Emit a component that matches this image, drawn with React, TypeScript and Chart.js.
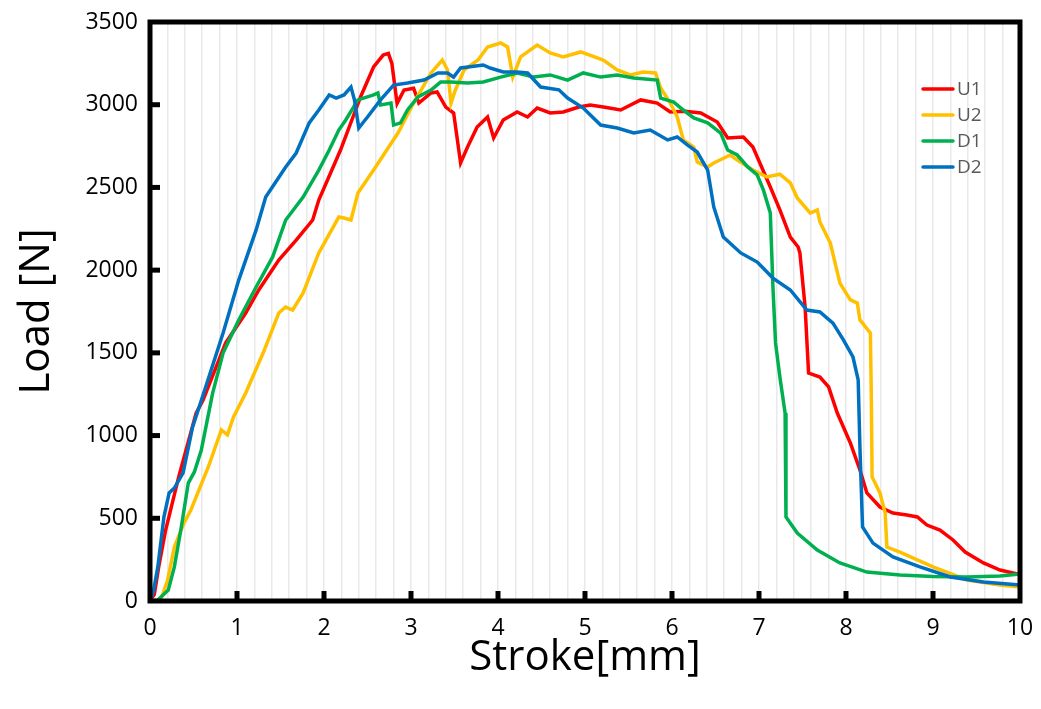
import React, { useEffect, useRef } from "react";
import { Chart, registerables } from "chart.js";

Chart.register(...registerables);

const seriesLabels = ["U1", "U2", "D1", "D2"];
const seriesColors = ["#FF0000", "#FFC000", "#00B050", "#0070C0"];

const xTickValues = [0, 1, 2, 3, 4, 5, 6, 7, 8, 9, 10];
const yTickValues = [0, 500, 1000, 1500, 2000, 2500, 3000, 3500];
const gridStep = 0.2;

const u1Stroke = [0, 0.05, 0.1, 0.18, 0.33, 0.53, 0.61, 0.87, 1.1, 1.25, 1.48, 1.68, 1.87, 1.94, 2.19, 2.42, 2.57, 2.68, 2.74, 2.78, 2.84, 2.92, 3.03, 3.09, 3.23, 3.3, 3.4, 3.49, 3.57, 3.65, 3.76, 3.88, 3.95, 4.06, 4.22, 4.34, 4.45, 4.6, 4.75, 4.93, 5.06, 5.23, 5.41, 5.64, 5.83, 5.98, 6.15, 6.33, 6.52, 6.64, 6.82, 6.93, 7.01, 7.13, 7.24, 7.36, 7.45, 7.47, 7.53, 7.57, 7.7, 7.8, 7.9, 8.05, 8.16, 8.24, 8.39, 8.54, 8.7, 8.82, 8.93, 9.08, 9.23, 9.37, 9.58, 9.77, 10];
const u1Load = [0, 40, 206, 429, 750, 1136, 1215, 1560, 1741, 1880, 2061, 2182, 2303, 2424, 2726, 3047, 3228, 3300, 3310, 3250, 3008, 3089, 3100, 3010, 3071, 3077, 2986, 2950, 2648, 2744, 2865, 2926, 2799, 2908, 2956, 2926, 2980, 2950, 2956, 2986, 2998, 2985, 2968, 3029, 3010, 2956, 2960, 2950, 2895, 2799, 2805, 2744, 2648, 2503, 2364, 2200, 2140, 2104, 1777, 1378, 1354, 1294, 1136, 955, 792, 653, 568, 532, 520, 508, 459, 429, 369, 296, 230, 187, 160];

const u2Stroke = [0, 0.08, 0.13, 0.2, 0.28, 0.39, 0.47, 0.67, 0.82, 0.89, 0.96, 1.1, 1.3, 1.48, 1.56, 1.64, 1.76, 1.94, 2.17, 2.23, 2.31, 2.39, 2.57, 2.85, 3.03, 3.23, 3.36, 3.42, 3.46, 3.51, 3.61, 3.77, 3.88, 4.03, 4.11, 4.17, 4.26, 4.45, 4.6, 4.75, 4.95, 5.21, 5.37, 5.52, 5.67, 5.81, 5.87, 5.98, 6.06, 6.13, 6.25, 6.29, 6.41, 6.48, 6.67, 6.75, 6.93, 7.09, 7.24, 7.36, 7.44, 7.59, 7.67, 7.7, 7.82, 7.93, 8.05, 8.13, 8.16, 8.28, 8.29, 8.3, 8.39, 8.45, 8.47, 8.62, 9.0, 9.39, 9.77, 10];
const u2Load = [0, 3, 18, 120, 326, 471, 550, 810, 1034, 1004, 1112, 1257, 1499, 1741, 1777, 1759, 1862, 2104, 2321, 2315, 2303, 2466, 2605, 2829, 3010, 3192, 3270, 3210, 3010, 3089, 3210, 3270, 3349, 3373, 3349, 3167, 3289, 3361, 3313, 3289, 3319, 3270, 3210, 3180, 3198, 3192, 3101, 3010, 2926, 2787, 2744, 2654, 2624, 2648, 2696, 2666, 2605, 2563, 2580, 2527, 2436, 2345, 2364, 2291, 2164, 1922, 1820, 1801, 1699, 1620, 1275, 750, 653, 532, 326, 296, 206, 127, 97, 85];

const d1Stroke = [0, 0.09, 0.21, 0.28, 0.36, 0.44, 0.51, 0.59, 0.72, 0.84, 1.02, 1.22, 1.41, 1.56, 1.76, 1.94, 2.06, 2.17, 2.25, 2.39, 2.57, 2.62, 2.65, 2.77, 2.8, 2.88, 2.96, 3.08, 3.23, 3.34, 3.46, 3.65, 3.83, 4.03, 4.22, 4.41, 4.6, 4.8, 4.98, 5.18, 5.37, 5.56, 5.83, 5.87, 6.02, 6.13, 6.25, 6.41, 6.56, 6.64, 6.75, 6.87, 6.98, 7.05, 7.13, 7.16, 7.19, 7.24, 7.3, 7.31, 7.44, 7.67, 7.93, 8.24, 8.62, 9.0, 9.39, 9.77, 10];
const d1Load = [0, 6, 66, 206, 447, 713, 780, 913, 1257, 1499, 1699, 1898, 2080, 2303, 2442, 2605, 2726, 2847, 2908, 3029, 3059, 3071, 2998, 3010, 2877, 2890, 2968, 3047, 3089, 3137, 3137, 3131, 3137, 3167, 3192, 3167, 3180, 3149, 3192, 3167, 3180, 3161, 3149, 3040, 3016, 2968, 2920, 2890, 2829, 2726, 2696, 2624, 2575, 2485, 2345, 1900, 1560, 1354, 1136, 508, 411, 308, 230, 175, 157, 148, 145, 151, 163];

const d2Stroke = [0, 0.04, 0.09, 0.16, 0.22, 0.28, 0.38, 0.49, 0.64, 0.84, 1.02, 1.22, 1.33, 1.56, 1.68, 1.83, 1.94, 2.06, 2.14, 2.23, 2.31, 2.35, 2.4, 2.5, 2.65, 2.8, 2.96, 3.15, 3.31, 3.42, 3.49, 3.57, 3.83, 3.91, 4.06, 4.22, 4.34, 4.49, 4.7, 4.8, 4.98, 5.18, 5.37, 5.56, 5.75, 5.95, 6.06, 6.18, 6.29, 6.41, 6.48, 6.59, 6.79, 6.98, 7.16, 7.36, 7.55, 7.7, 7.85, 7.97, 8.08, 8.14, 8.16, 8.19, 8.31, 8.54, 8.85, 9.2, 9.58, 10];
const d2Load = [0, 60, 206, 508, 653, 683, 774, 1052, 1294, 1620, 1940, 2243, 2442, 2624, 2708, 2890, 2968, 3059, 3040, 3059, 3107, 3029, 2859, 2926, 3029, 3119, 3131, 3149, 3192, 3192, 3167, 3222, 3240, 3222, 3198, 3198, 3192, 3107, 3090, 3040, 2980, 2877, 2859, 2829, 2847, 2787, 2805, 2756, 2714, 2605, 2382, 2200, 2104, 2049, 1952, 1880, 1759, 1747, 1680, 1578, 1475, 1336, 931, 447, 350, 266, 206, 145, 115, 97];

const strokes = [u1Stroke, u2Stroke, d1Stroke, d2Stroke];
const loads = [u1Load, u2Load, d1Load, d2Load];

const FONT = "'Open Sans', 'Noto Sans', sans-serif";

const framePlugin = {
  id: "frameAndLegend",
  afterDatasetsDraw(chart: any) {
    const { ctx, chartArea, scales } = chart;
    const { left, top, right, bottom } = chartArea;
    ctx.save();
    ctx.strokeStyle = "#000";
    ctx.lineWidth = 5;
    ctx.strokeRect(left, top, right - left, bottom - top);
    ctx.lineWidth = 5;
    ctx.lineCap = "butt";
    yTickValues.forEach((v) => {
      if (v === 0 || v === 3500) return;
      const py = scales.y.getPixelForValue(v);
      ctx.beginPath();
      ctx.moveTo(left, py);
      ctx.lineTo(left + 10, py);
      ctx.stroke();
    });
    xTickValues.forEach((v) => {
      if (v === 0 || v === 10) return;
      const px = scales.x.getPixelForValue(v);
      ctx.beginPath();
      ctx.moveTo(px, bottom);
      ctx.lineTo(px, bottom - 10);
      ctx.stroke();
    });
    // legend
    const lx = right - 97;
    const ly = top + 67;
    const rowH = 26;
    ctx.font = `19px ${FONT}`;
    ctx.textBaseline = "middle";
    ctx.textAlign = "left";
    chart.data.datasets.forEach((ds: any, i: number) => {
      const y = ly + i * rowH;
      ctx.strokeStyle = ds.borderColor;
      ctx.lineWidth = 3.5;
      ctx.lineCap = "round";
      ctx.beginPath();
      ctx.moveTo(lx, y);
      ctx.lineTo(lx + 30, y);
      ctx.stroke();
      ctx.fillStyle = "#595959";
      ctx.fillText(ds.label, lx + 34, y + 1);
    });
    ctx.restore();
  },
};

export default function App() {
  const ref = useRef<HTMLCanvasElement | null>(null);
  useEffect(() => {
    if (!ref.current) return;
    const datasets = seriesLabels.map((label, i) => ({
      label,
      data: strokes[i].map((x, j) => ({ x, y: loads[i][j] })),
      borderColor: seriesColors[i],
      backgroundColor: seriesColors[i],
      borderWidth: 3.5,
      pointRadius: 0,
      showLine: true,
      fill: false,
      tension: 0,
      order: 3 - i,
    }));
    const chart = new Chart(ref.current, {
      type: "scatter",
      data: { datasets },
      options: {
        animation: false,
        responsive: true,
        maintainAspectRatio: false,
        layout: { padding: { top: 14, right: 13, left: 0, bottom: 0 } },
        plugins: { legend: { display: false }, tooltip: { enabled: false } },
        scales: {
          x: {
            type: "linear",
            min: 0,
            max: 10,
            afterBuildTicks: (scale: any) => {
              const t = [];
              for (let k = 0; k <= 50; k++) t.push({ value: Math.round(k * gridStep * 1000) / 1000 });
              scale.ticks = t;
            },
            afterFit: (scale: any) => {
              scale.height = 100;
              scale.paddingLeft = 0;
              scale.paddingRight = 0;
            },
            grid: { color: "#e9e9e9", lineWidth: 1.5, drawTicks: false, tickLength: 0 },
            border: { display: false },
            ticks: {
              autoSkip: false,
              maxRotation: 0,
              padding: 14,
              color: "#000",
              font: { size: 23, family: FONT },
              callback: (v: any) => {
                const n = Number(v);
                return xTickValues.some((t) => Math.abs(t - n) < 1e-6) ? String(Math.round(n)) : "";
              },
            },
            title: {
              display: true,
              text: "Stroke[mm]",
              color: "#000",
              font: { size: 42, family: FONT },
              padding: { top: 0, bottom: 18 },
            },
          },
          y: {
            type: "linear",
            min: 0,
            max: 3500,
            afterBuildTicks: (scale: any) => {
              scale.ticks = yTickValues.map((v) => ({ value: v }));
            },
            afterFit: (scale: any) => {
              scale.width = 142;
              scale.paddingTop = 0;
              scale.paddingBottom = 0;
            },
            grid: { display: false, drawTicks: false },
            border: { display: false },
            ticks: {
              padding: 12,
              color: "#000",
              font: { size: 23, family: FONT },
              callback: (v: any) => String(v),
            },
            title: {
              display: true,
              text: "Load [N]",
              color: "#000",
              font: { size: 42, family: FONT },
              padding: { top: 4, bottom: 0 },
            },
          },
        },
      },
      plugins: [framePlugin],
    });
    return () => chart.destroy();
  }, []);
  return (
    <div style={{ width: 1025, height: 693, position: "relative" }}>
      <canvas ref={ref} />
    </div>
  );
}
